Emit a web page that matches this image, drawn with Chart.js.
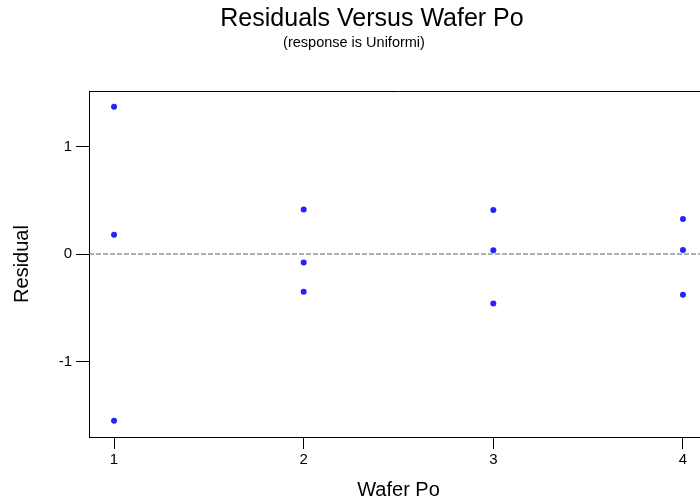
<!DOCTYPE html>
<html>
<head>
<meta charset="utf-8">
<script src="https://cdn.jsdelivr.net/npm/chart.js@4.4.1/dist/chart.umd.min.js"></script>
<style>
    html, body { margin: 0; padding: 0; background: #fff; }
    body { width: 700px; height: 502px; overflow: hidden; }
</style>
</head>
<body>
<canvas id="residChart" width="744" height="502"></canvas>
<script>
// wafer positions and residuals
const waferPos = [1, 1, 1, 2, 2, 2, 3, 3, 3, 4, 4, 4];
const residuals = [1.37, 0.18, -1.55, 0.415, -0.08, -0.35, 0.41, 0.035, -0.46, 0.325, 0.037, -0.38];
const xTicks = [1, 2, 3, 4];
const yTicks = [-1, 0, 1];
const xRange = [0.868, 4.132];
const yRange = [-1.702, 1.516];
const subtitleText = "(response is Uniformi)";

const FONT = "'Liberation Sans', Arial, sans-serif";

// top / right frame lines (Chart.js only draws the axis borders)
// plus the subtitle, which sits a little left of the title's centre
const framePlugin = {
    id: "frame",
    afterDraw(chart) {
        const { ctx, chartArea } = chart;
        ctx.save();
        ctx.strokeStyle = "#000";
        ctx.lineWidth = 1;
        ctx.beginPath();
        ctx.moveTo(chartArea.left, chartArea.top + 0.5);
        ctx.lineTo(chartArea.right, chartArea.top + 0.5);
        ctx.lineTo(chartArea.right, chartArea.bottom);
        ctx.stroke();

        ctx.fillStyle = "#000";
        ctx.font = "14.5px " + FONT;
        ctx.textAlign = "center";
        ctx.textBaseline = "middle";
        ctx.fillText(subtitleText, 354, 43);
        ctx.restore();
    }
};

document.addEventListener("DOMContentLoaded", function () {
    const ctx = document.getElementById("residChart").getContext("2d");

    new Chart(ctx, {
        type: "scatter",
        data: {
            datasets: [
                {
                    label: "Reference",
                    type: "line",
                    data: [{ x: xRange[0], y: 0 }, { x: xRange[1], y: 0 }],
                    borderColor: "#606060",
                    borderWidth: 1,
                    borderDash: [5, 2],
                    pointRadius: 0,
                    fill: false,
                },
                {
                    label: "Residual",
                    data: waferPos.map((x, i) => ({ x: x, y: residuals[i] })),
                    backgroundColor: "rgb(36, 36, 255)",
                    borderColor: "rgb(36, 36, 255)",
                    pointStyle: "circle",
                    pointRadius: 3,
                    borderWidth: 0,
                },
            ],
        },
        options: {
            responsive: false,
            animation: false,
            layout: { padding: 0 },
            plugins: {
                legend: { display: false },
                tooltip: { enabled: false },
                title: {
                    display: true,
                    text: "Residuals Versus Wafer Po",
                    color: "#000",
                    font: { family: FONT, size: 25, weight: "normal" },
                    padding: { top: 4, bottom: 57 },
                },
            },
            scales: {
                x: {
                    type: "linear",
                    min: xRange[0],
                    max: xRange[1],
                    afterBuildTicks: (scale) => { scale.ticks = xTicks.map((v) => ({ value: v })); },
                    afterFit: (scale) => { scale.height = 65; },
                    grid: {
                        drawOnChartArea: false,
                        drawTicks: true,
                        tickLength: 12,
                        color: "#000",
                    },
                    border: { display: true, color: "#000", width: 1 },
                    ticks: {
                        color: "#000",
                        padding: 2,
                        maxRotation: 0,
                        font: { family: FONT, size: 15 },
                    },
                    title: {
                        display: true,
                        text: "Wafer Po",
                        color: "#000",
                        font: { family: FONT, size: 20 },
                        padding: { top: 0, bottom: 0 },
                    },
                },
                y: {
                    type: "linear",
                    min: yRange[0],
                    max: yRange[1],
                    afterBuildTicks: (scale) => { scale.ticks = yTicks.map((v) => ({ value: v })); },
                    afterFit: (scale) => { scale.width = 89; },
                    grid: {
                        drawOnChartArea: false,
                        drawTicks: true,
                        tickLength: 13,
                        color: "#000",
                    },
                    border: { display: true, color: "#000", width: 1 },
                    ticks: {
                        color: "#000",
                        padding: 4,
                        font: { family: FONT, size: 15 },
                    },
                    title: {
                        display: true,
                        text: "Residual",
                        color: "#000",
                        font: { family: FONT, size: 20 },
                        padding: { top: 10, bottom: 0 },
                    },
                },
                // empty right-hand margin so the plot ends where the original did
                yRight: {
                    type: "linear",
                    position: "right",
                    display: true,
                    min: yRange[0],
                    max: yRange[1],
                    afterFit: (scale) => { scale.width = 36; },
                    grid: { display: false, drawTicks: false },
                    border: { display: false },
                    ticks: { display: false },
                },
            },
        },
        plugins: [framePlugin],
    });
});
</script>
</body>
</html>
